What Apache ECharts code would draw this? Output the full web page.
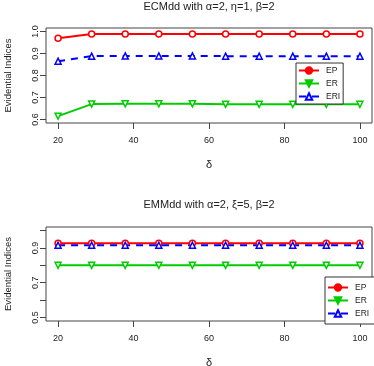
<!DOCTYPE html>
<html>
<head>
<meta charset="utf-8">
<script src="https://cdn.jsdelivr.net/npm/echarts@6/dist/echarts.min.js"></script>
<style>html,body{margin:0;padding:0;background:#fff;}#c{width:374px;height:366px;}</style>
</head>
<body>
<div id="c"></div>
<script>
// ---- data ----
var delta = [20, 28.9, 37.8, 46.7, 55.6, 64.4, 73.3, 82.2, 91.1, 100];
var xTicks = [20, 40, 60, 80, 100];

var title1 = 'ECMdd with \u03b1=2, \u03b7=1, \u03b2=2';
var ecm_EP  = [0.969, 0.989, 0.989, 0.989, 0.989, 0.989, 0.989, 0.989, 0.989, 0.989];
var ecm_ER  = [0.615, 0.670, 0.671, 0.671, 0.671, 0.669, 0.669, 0.669, 0.669, 0.669];
var ecm_ERI = [0.865, 0.888, 0.889, 0.889, 0.889, 0.888, 0.888, 0.888, 0.888, 0.888];
var yTicks1 = [0.6, 0.7, 0.8, 0.9, 1.0];
var yLabels1 = [0.6, 0.7, 0.8, 0.9, 1.0];

var title2 = 'EMMdd with \u03b1=2, \u03be=5, \u03b2=2';
var emm_EP  = [0.927, 0.927, 0.927, 0.927, 0.927, 0.927, 0.927, 0.927, 0.927, 0.927];
var emm_ER  = [0.800, 0.800, 0.800, 0.800, 0.800, 0.800, 0.800, 0.800, 0.800, 0.800];
var emm_ERI = [0.915, 0.915, 0.915, 0.915, 0.915, 0.915, 0.915, 0.915, 0.915, 0.915];
var yTicks2 = [0.5, 0.6, 0.7, 0.8, 0.9, 1.0];
var yLabels2 = [0.5, 0.7, 0.9];

var names = ['EP', 'ER', 'ERI'];
var xName = '\u03b4';
var yName = 'Evidential Indices';

// ---- styles ----
var FONT = 'Liberation Sans';
var TXT = '#222';
var RED = '#ff0000', GREEN = '#00cd00', BLUE = '#0000ff';

function pair(xs, ys) { return xs.map(function (x, i) { return [x, ys[i]]; }); }

function xAxis(gi) {
  return {
    type: 'value', gridIndex: gi, min: 16.8, max: 103.2,
    name: xName, nameLocation: 'middle', nameGap: 36,
    nameTextStyle: { fontFamily: FONT, fontSize: 11, color: TXT },
    axisLine: { show: false },
    axisTick: { show: true, length: 6, inside: false, customValues: xTicks, lineStyle: { color: '#444' } },
    axisLabel: { customValues: xTicks, fontFamily: FONT, fontSize: 9, color: TXT, margin: 13 },
    splitLine: { show: false }
  };
}
function yAxis(gi, mn, mx, ticks, labels) {
  return {
    type: 'value', gridIndex: gi, min: mn, max: mx,
    name: yName, nameLocation: 'middle', nameGap: 33, nameRotate: 90,
    nameTextStyle: { fontFamily: FONT, fontSize: 9.5, color: TXT },
    axisLine: { show: false },
    axisTick: { show: true, length: 6, inside: false, customValues: ticks, lineStyle: { color: '#444' } },
    axisLabel: { customValues: labels, rotate: 90, fontFamily: FONT, fontSize: 9, color: TXT, margin: 6,
      formatter: function (v) { return v.toFixed(1); } },
    splitLine: { show: false }
  };
}
function series(gi, name, data, color, symbol, rot, dashed) {
  return {
    type: 'line', name: name, xAxisIndex: gi, yAxisIndex: gi,
    data: pair(delta, data),
    symbol: symbol, symbolSize: 6, symbolRotate: rot, showAllSymbol: true,
    lineStyle: { color: color, width: 2, type: dashed ? [7, 6] : 'solid' },
    itemStyle: { color: '#fff', borderColor: color, borderWidth: 1.5 },
    emphasis: { disabled: true }, z: 3
  };
}
function legend(left, top, pad) {
  return {
    orient: 'vertical', left: left, top: top,
    itemWidth: 20, itemHeight: 8, itemGap: 4, padding: pad,
    borderColor: '#333', borderWidth: 1, backgroundColor: '#fff',
    selectedMode: false,
    textStyle: { fontFamily: FONT, fontSize: 8.5, color: TXT, padding: [0, 0, 0, 2] },
    data: [
      { name: names[0], itemStyle: { color: RED, borderColor: RED } },
      { name: names[1], itemStyle: { color: GREEN, borderColor: GREEN } },
      { name: names[2], itemStyle: { color: '#fff', borderColor: BLUE } }
    ]
  };
}

var chart = echarts.init(document.getElementById('c'), null, { renderer: 'canvas' });
chart.setOption({
  animation: false,
  backgroundColor: '#fff',
  title: [
    { text: title1, left: 209, top: 1, textAlign: 'center', padding: 0,
      textStyle: { fontFamily: FONT, fontSize: 11, fontWeight: 'normal', color: TXT } },
    { text: title2, left: 209, top: 199, textAlign: 'center', padding: 0,
      textStyle: { fontFamily: FONT, fontSize: 11, fontWeight: 'normal', color: TXT } }
  ],
  grid: [
    { left: 46, right: 2, top: 28, height: 95, show: true, borderColor: '#444', borderWidth: 1, backgroundColor: 'transparent', containLabel: false, outerBoundsMode: 'none' },
    { left: 46, right: 2, top: 227, height: 94, show: true, borderColor: '#444', borderWidth: 1, backgroundColor: 'transparent', containLabel: false, outerBoundsMode: 'none' }
  ],
  xAxis: [xAxis(0), xAxis(1)],
  yAxis: [yAxis(0, 0.584, 1.016, yTicks1, yLabels1), yAxis(1, 0.48, 1.02, yTicks2, yLabels2)],
  legend: [legend(296, 63, [3, 3, 3, 2]), legend(325, 277, [6, 20, 6, 2])],
  series: [
    series(0, names[0], ecm_EP, RED, 'circle', 0, false),
    series(0, names[1], ecm_ER, GREEN, 'triangle', 180, false),
    series(0, names[2], ecm_ERI, BLUE, 'triangle', 0, true),
    series(1, names[0], emm_EP, RED, 'circle', 0, false),
    series(1, names[1], emm_ER, GREEN, 'triangle', 180, false),
    series(1, names[2], emm_ERI, BLUE, 'triangle', 0, true)
  ]
});
</script>
</body>
</html>
